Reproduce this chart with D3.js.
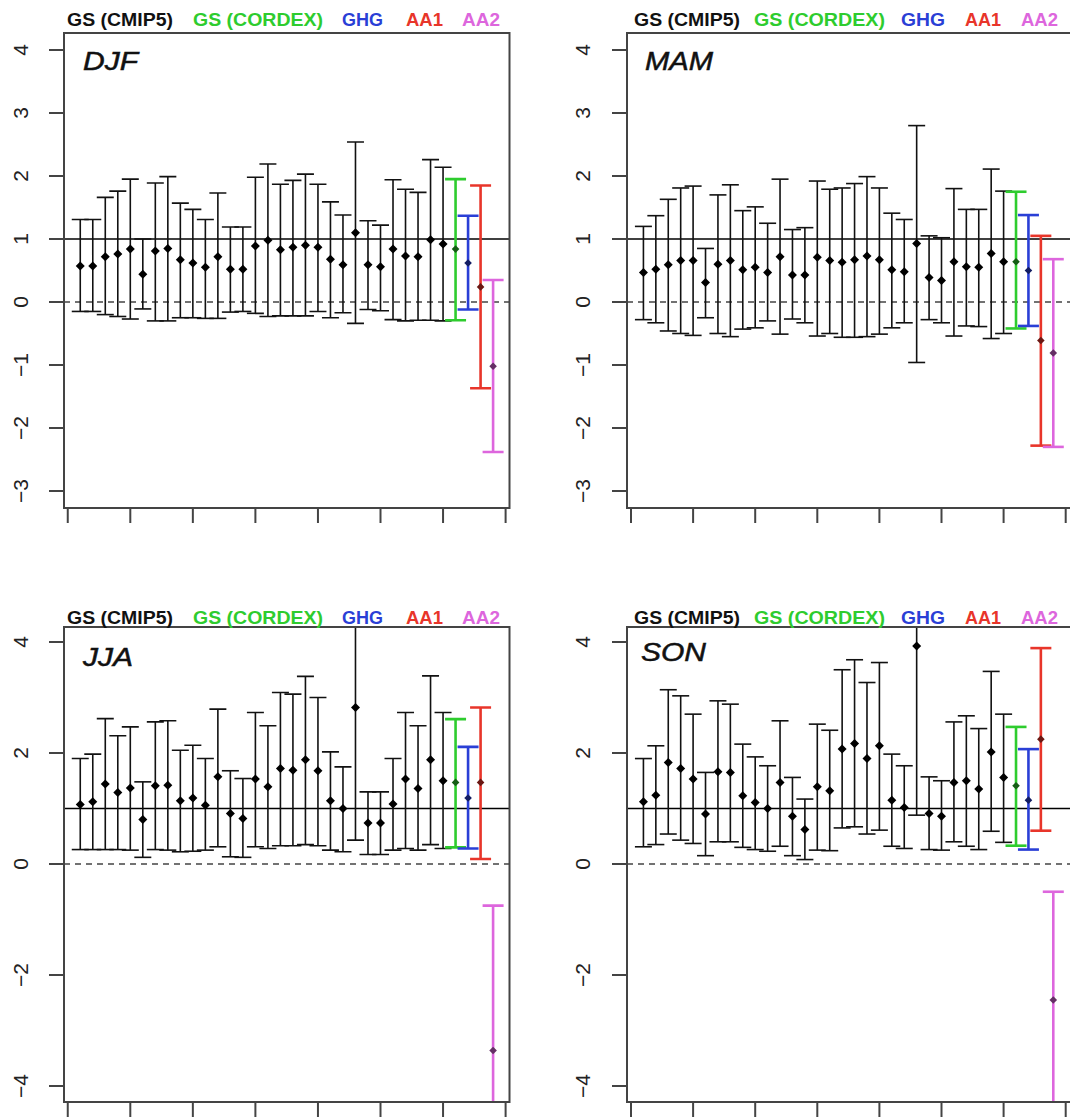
<!DOCTYPE html>
<html>
<head>
<meta charset="utf-8">
<script src="https://cdn.jsdelivr.net/npm/d3@7"></script>
<style>
  html, body { margin: 0; padding: 0; background: #fff; }
  svg { display: block; }
  text { font-family: "Liberation Sans", Arial, Helvetica, sans-serif; }
</style>
</head>
<body>
<svg id="chart" width="1070" height="1118"></svg>
<script>
// ---------------- DATA ----------------
// 30 GS (CMIP5) models, then GS (CORDEX), GHG, AA1, AA2
const seriesNames = ["GS (CMIP5)", "GS (CORDEX)", "GHG", "AA1", "AA2"];
const seriesColors = ["#000000", "#2ecc2e", "#2a3fd6", "#e8352a", "#dd66dd"];
const seasons = ["DJF", "MAM", "JJA", "SON"];

const djfMean = [0.57,0.57,0.72,0.76,0.84,0.44,0.81,0.85,0.67,0.62,0.55,0.72,0.52,0.52,0.89,0.98,0.83,0.87,0.90,0.87,0.68,0.59,1.10,0.59,0.56,0.84,0.73,0.72,0.99,0.92, 0.84,0.62,0.24,-1.02];
const djfHigh = [1.31,1.31,1.66,1.76,1.95,1.00,1.89,1.99,1.57,1.47,1.31,1.73,1.19,1.19,1.98,2.19,1.87,1.93,2.03,1.87,1.59,1.38,2.54,1.29,1.22,1.94,1.79,1.74,2.26,2.14, 1.95,1.37,1.85,0.35];
const djfLow  = [-0.15,-0.15,-0.20,-0.23,-0.27,-0.11,-0.30,-0.30,-0.25,-0.25,-0.26,-0.26,-0.16,-0.15,-0.18,-0.23,-0.22,-0.22,-0.22,-0.15,-0.25,-0.17,-0.34,-0.12,-0.14,-0.28,-0.30,-0.29,-0.29,-0.30, -0.29,-0.12,-1.37,-2.38];

const mamMean = [0.47,0.52,0.59,0.66,0.66,0.31,0.60,0.66,0.51,0.55,0.47,0.72,0.43,0.43,0.71,0.66,0.63,0.67,0.73,0.67,0.51,0.48,0.93,0.39,0.34,0.64,0.56,0.55,0.77,0.64, 0.64,0.50,-0.61,-0.81];
const mamHigh = [1.20,1.37,1.63,1.81,1.84,0.85,1.70,1.86,1.45,1.51,1.25,1.95,1.15,1.18,1.92,1.79,1.81,1.88,1.99,1.81,1.41,1.31,2.80,1.05,1.02,1.80,1.47,1.47,2.11,1.76, 1.75,1.38,1.05,0.68];
const mamLow  = [-0.28,-0.33,-0.46,-0.50,-0.53,-0.25,-0.50,-0.55,-0.43,-0.41,-0.30,-0.51,-0.27,-0.33,-0.54,-0.50,-0.56,-0.56,-0.55,-0.51,-0.41,-0.33,-0.96,-0.28,-0.33,-0.54,-0.38,-0.39,-0.58,-0.50, -0.42,-0.38,-2.28,-2.30];

const jjaMean = [1.07,1.12,1.44,1.29,1.37,0.80,1.41,1.42,1.14,1.19,1.06,1.57,0.91,0.82,1.53,1.39,1.72,1.69,1.88,1.68,1.14,1.00,2.82,0.74,0.74,1.08,1.53,1.36,1.88,1.50, 1.47,1.19,1.47,-3.36];
const jjaHigh = [1.90,1.98,2.62,2.31,2.47,1.48,2.56,2.58,2.05,2.14,1.90,2.79,1.68,1.54,2.73,2.49,3.09,3.06,3.38,3.00,2.02,1.75,4.60,1.30,1.30,1.90,2.73,2.49,3.39,2.73, 2.61,2.11,2.82,-0.75];
const jjaLow  = [0.26,0.26,0.26,0.26,0.25,0.12,0.26,0.25,0.22,0.23,0.25,0.31,0.13,0.12,0.31,0.28,0.33,0.33,0.35,0.33,0.25,0.22,0.43,0.17,0.17,0.25,0.28,0.25,0.35,0.28, 0.30,0.28,0.09,-4.60];

const sonMean = [1.12,1.24,1.83,1.72,1.53,0.90,1.66,1.65,1.23,1.11,1.00,1.47,0.86,0.62,1.39,1.32,2.07,2.17,1.90,2.13,1.15,1.02,3.93,0.91,0.86,1.47,1.50,1.35,2.02,1.56, 1.41,1.15,2.25,-2.45];
const sonHigh = [1.90,2.13,3.14,3.03,2.70,1.65,2.94,2.88,2.16,1.93,1.77,2.58,1.56,1.17,2.52,2.41,3.50,3.68,3.27,3.63,1.98,1.77,4.60,1.57,1.50,2.56,2.67,2.44,3.47,2.70, 2.47,2.07,3.89,-0.50];
const sonLow  = [0.31,0.35,0.54,0.43,0.37,0.15,0.40,0.40,0.30,0.26,0.23,0.32,0.15,0.08,0.25,0.24,0.65,0.67,0.54,0.61,0.32,0.28,0.88,0.26,0.25,0.40,0.32,0.26,0.59,0.39, 0.33,0.26,0.60,-4.60];

const ticksTop = [-3,-2,-1,0,1,2,3,4];
const ticksBottom = [-4,-2,0,2,4];
const xTicks = [0,5,10,15,20,25,30,35];

// ---------------- LAYOUT ----------------
const L = {box:[64, 509.5], xr:[67.75, 505.6], ylab:28, leg:[67,193,342,406,462], legW:[106,130,41,37,38]};
const R = {box:[627, 1072], xr:[631, 1065.7], ylab:590, leg:[634,754,901,965,1021], legW:[106,131,44,36,37]};

const panels = [
  {name:"DJF", mean:djfMean, lo:djfLow, hi:djfHigh, col:L, top:33, bottom:508, yd:[-3,4], yr:[491,50], ticks:ticksTop, legY:25.5, lab:[83,70,55]},
  {name:"MAM", mean:mamMean, lo:mamLow, hi:mamHigh, col:R, top:33, bottom:508, yd:[-3,4], yr:[491,50], ticks:ticksTop, legY:25.5, lab:[645,70,68]},
  {name:"JJA", mean:jjaMean, lo:jjaLow, hi:jjaHigh, col:L, top:627, bottom:1102, yd:[-4,4], yr:[1086,642], ticks:ticksBottom, legY:623.5, lab:[83,666,50]},
  {name:"SON", mean:sonMean, lo:sonLow, hi:sonHigh, col:R, top:627, bottom:1102, yd:[-4,4], yr:[1086,642], ticks:ticksBottom, legY:623.5, lab:[641,661,65]}
];

const svg = d3.select("#chart");
const fmt = v => (v < 0 ? "\u2212" + Math.abs(v) : String(v));
const diamond = r => `M0,${-r}L${r},0L0,${r}L${-r},0Z`;

panels.forEach((p, pi) => {
  const c = p.col;
  const x = d3.scaleLinear().domain([0, 35]).range(c.xr);
  const y = d3.scaleLinear().domain(p.yd).range(p.yr);
  const g = svg.append("g");

  const clipId = "clip" + pi;
  svg.append("clipPath").attr("id", clipId).append("rect")
    .attr("x", c.box[0]).attr("y", p.top)
    .attr("width", c.box[1] - c.box[0]).attr("height", p.bottom - p.top);

  // reference lines
  g.append("line").attr("x1", c.box[0]).attr("x2", c.box[1])
    .attr("y1", y(0)).attr("y2", y(0))
    .attr("stroke", "#444").attr("stroke-width", 1.6).attr("stroke-dasharray", "6,5");
  g.append("line").attr("x1", c.box[0]).attr("x2", c.box[1])
    .attr("y1", y(1)).attr("y2", y(1))
    .attr("stroke", "#000").attr("stroke-width", 1.6);

  // bars
  const data = p.mean.map((m, i) => ({i: i + 1, m, lo: p.lo[i], hi: p.hi[i], s: i < 30 ? 0 : i - 29}));
  const bars = g.append("g").attr("clip-path", `url(#${clipId})`);
  const bg = bars.selectAll("g.bar").data(data).join("g").attr("class", "bar");
  bg.append("line")
    .attr("x1", d => x(d.i)).attr("x2", d => x(d.i))
    .attr("y1", d => y(d.lo)).attr("y2", d => y(d.hi))
    .attr("stroke", d => d.s ? seriesColors[d.s] : "#111").attr("stroke-width", d => d.s ? 2.6 : 1.6);
  ["lo", "hi"].forEach(k => {
    bg.append("line")
      .attr("x1", d => x(d.i) - (d.s ? 10.5 : 8.5)).attr("x2", d => x(d.i) + (d.s ? 10.5 : 8.5))
      .attr("y1", d => y(d[k])).attr("y2", d => y(d[k]))
      .attr("stroke", d => d.s ? seriesColors[d.s] : "#111").attr("stroke-width", d => d.s ? 2.6 : 1.6);
  });
  bg.append("path")
    .attr("d", d => diamond(d.s ? 3.8 : 4.5))
    .attr("transform", d => `translate(${x(d.i)},${y(d.m)})`)
    .attr("fill", d => d.s ? d3.color(seriesColors[d.s]).darker(2.2) : "#000");

  // box
  g.append("rect").attr("x", c.box[0]).attr("y", p.top)
    .attr("width", c.box[1] - c.box[0]).attr("height", p.bottom - p.top)
    .attr("fill", "none").attr("stroke", "#444").attr("stroke-width", 2);

  // y axis ticks + labels
  p.ticks.forEach(t => {
    g.append("line").attr("x1", c.box[0] - 15).attr("x2", c.box[0])
      .attr("y1", y(t)).attr("y2", y(t)).attr("stroke", "#444").attr("stroke-width", 2);
    g.append("text").attr("transform", `translate(${c.ylab},${y(t)}) rotate(-90)`)
      .attr("text-anchor", "middle").attr("font-size", 21).attr("fill", "#222")
      .text(fmt(t));
  });
  // x axis ticks
  xTicks.forEach(t => {
    g.append("line").attr("x1", x(t)).attr("x2", x(t))
      .attr("y1", p.bottom).attr("y2", p.bottom + 15).attr("stroke", "#444").attr("stroke-width", 2);
  });

  // legend
  seriesNames.forEach((n, k) => {
    g.append("text").attr("x", c.leg[k]).attr("y", p.legY)
      .attr("font-size", 17.5).attr("font-weight", "bold")
      .attr("fill", k === 0 ? "#111" : seriesColors[k])
      .attr("textLength", c.legW[k]).attr("lengthAdjust", "spacingAndGlyphs")
      .text(n);
  });

  // season label
  g.append("text").attr("x", p.lab[0]).attr("y", p.lab[1])
    .attr("font-size", 25).attr("font-style", "italic").attr("fill", "#111")
    .attr("stroke", "#111").attr("stroke-width", 0.5)
    .attr("textLength", p.lab[2]).attr("lengthAdjust", "spacingAndGlyphs")
    .text(p.name);
});
</script>
</body>
</html>
